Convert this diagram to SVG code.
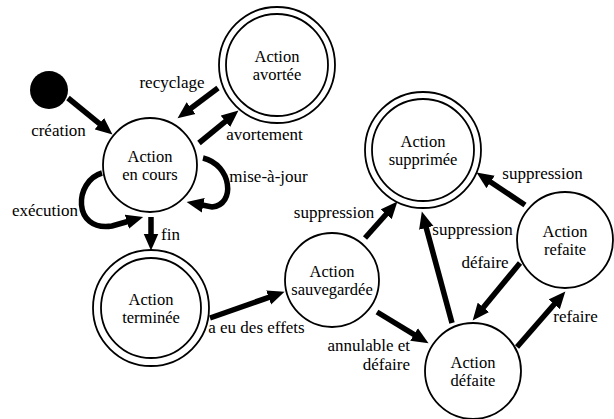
<svg xmlns="http://www.w3.org/2000/svg" width="614" height="419" viewBox="0 0 614 419">
<style>
.st{fill:#fff;stroke:#000;stroke-width:1.8}
.nt{font-family:"Liberation Serif","DejaVu Serif",serif;font-size:16.5px;text-anchor:middle;fill:#000}
.lb{font-family:"Liberation Serif","DejaVu Serif",serif;font-size:17px;fill:#000}
.ar{fill:none;stroke:#000;stroke-width:5.5;marker-end:url(#ah)}
</style>
<defs>
<marker id="ah" markerUnits="userSpaceOnUse" markerWidth="18" markerHeight="16" refX="6" refY="7" orient="auto" viewBox="0 0 17 14">
<path d="M0,0 L16,7 L0,14 z" fill="#000"/>
</marker>
</defs>
<g id="connectors">
<path class="ar" d="M68,98 L104.3,127.7"/>
<path class="ar" d="M218,88 L186,112"/>
<path class="ar" d="M199,143 L230.3,117.3"/>
<path class="ar" d="M102,173 C74,181 72,232 112,226 L133,220"/>
<path class="ar" d="M203,158 C232,165 236,205 212,207 L197,204"/>
<path class="ar" d="M151,217 L151,240"/>
<path class="ar" d="M210,318 L274.6,295.3"/>
<path class="ar" d="M365,238 L390.4,209.5"/>
<path class="ar" d="M452,323 L424.6,221.7"/>
<path class="ar" d="M525,205 L485.3,178.5"/>
<path class="ar" d="M520,263 L479.4,312.3"/>
<path class="ar" d="M517,347 L558.4,299.5"/>
<path class="ar" d="M377,312 L419.5,337.8"/>
</g>
<g id="labels">
<text class="lb" x="58.5" y="136" text-anchor="middle">création</text>
<text class="lb" x="172" y="88" text-anchor="middle">recyclage</text>
<text class="lb" x="264.5" y="140" text-anchor="middle">avortement</text>
<text class="lb" x="268.5" y="182" text-anchor="middle">mise-à-jour</text>
<text class="lb" x="45" y="216" text-anchor="middle">exécution</text>
<text class="lb" x="161" y="240">fin</text>
<text class="lb" x="256.5" y="333" text-anchor="middle">a eu des effets</text>
<text class="lb" x="334" y="218" text-anchor="middle">suppression</text>
<text class="lb" x="472.5" y="235" text-anchor="middle">suppression</text>
<text class="lb" x="542.5" y="179" text-anchor="middle">suppression</text>
<text class="lb" x="485" y="268" text-anchor="middle">défaire</text>
<text class="lb" x="575.5" y="322" text-anchor="middle">refaire</text>
<text class="lb" x="410" y="351" text-anchor="end">annulable et</text>
<text class="lb" x="410" y="370" text-anchor="end">défaire</text>
</g>
<g id="initial">
<circle cx="49" cy="90" r="19" fill="#000"/>
</g>
<g id="en-cours">
<circle class="st" cx="150" cy="165" r="47"/>
<text class="nt" x="150" y="161.5">Action</text>
<text class="nt" x="150" y="179.5">en cours</text>
</g>
<g id="avortee">
<circle class="st" cx="277" cy="65" r="58"/>
<circle class="st" cx="277" cy="65" r="51"/>
<text class="nt" x="277" y="61.5">Action</text>
<text class="nt" x="277" y="79.5">avortée</text>
</g>
<g id="terminee">
<circle class="st" cx="151" cy="308" r="58"/>
<circle class="st" cx="151" cy="308" r="50"/>
<text class="nt" x="151" y="304.5">Action</text>
<text class="nt" x="151" y="322.5">terminée</text>
</g>
<g id="sauvegardee">
<circle class="st" cx="332" cy="280" r="47"/>
<text class="nt" x="332" y="276.5">Action</text>
<text class="nt" x="332" y="294.5">sauvegardée</text>
</g>
<g id="supprimee">
<circle class="st" cx="423" cy="150" r="58"/>
<circle class="st" cx="423" cy="150" r="51"/>
<text class="nt" x="423" y="146.5">Action</text>
<text class="nt" x="423" y="164.5">supprimée</text>
</g>
<g id="refaite">
<circle class="st" cx="565" cy="240" r="48"/>
<text class="nt" x="565" y="236.5">Action</text>
<text class="nt" x="565" y="254.5">refaite</text>
</g>
<g id="defaite">
<circle class="st" cx="473" cy="371" r="48"/>
<text class="nt" x="473" y="367.5">Action</text>
<text class="nt" x="473" y="385.5">défaite</text>
</g>
</svg>
